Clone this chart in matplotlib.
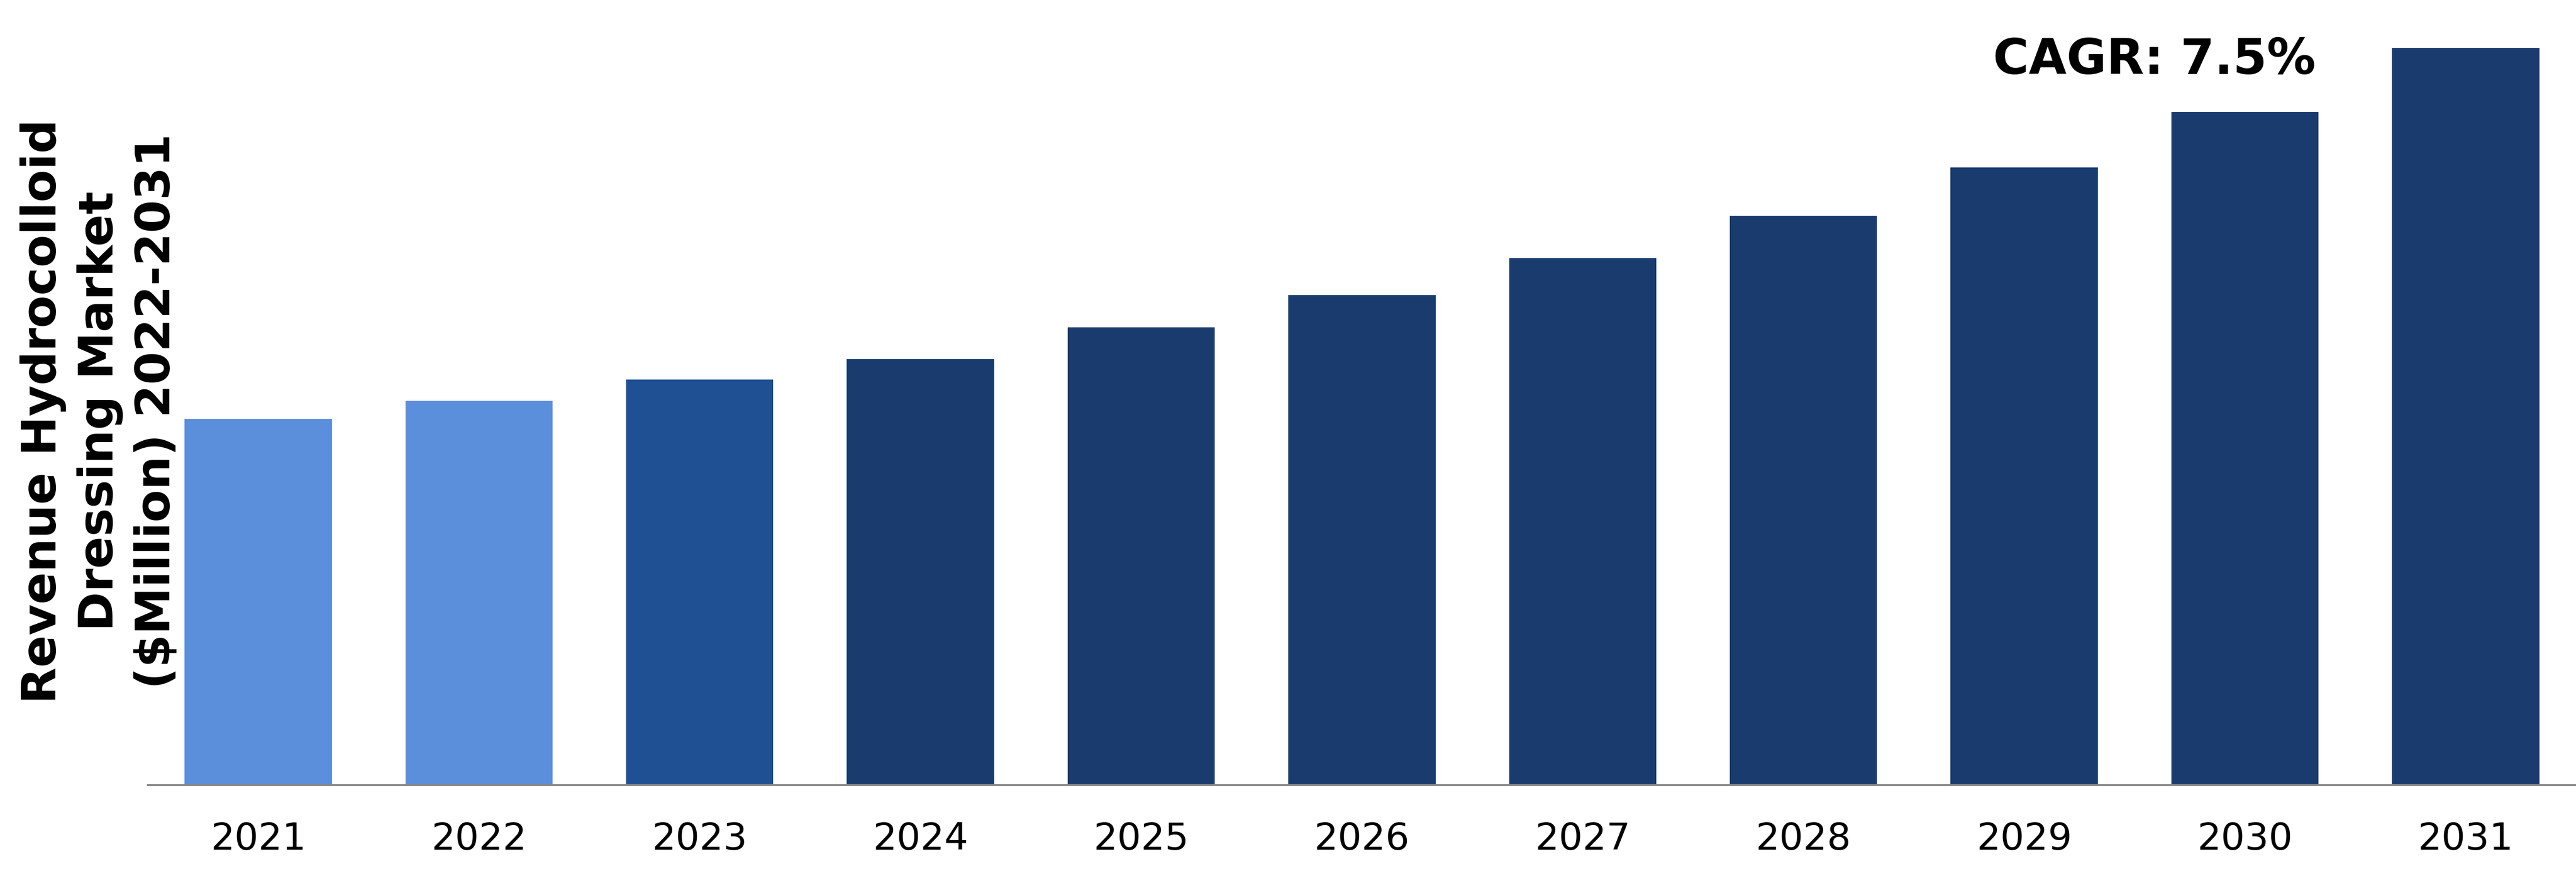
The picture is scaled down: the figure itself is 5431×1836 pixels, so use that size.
import matplotlib
matplotlib.use("Agg")
import matplotlib.pyplot as plt

# data (bar heights, arbitrary units)
years = ["2021", "2022", "2023", "2024", "2025", "2026",
         "2027", "2028", "2029", "2030", "2031"]
revenue = [7.72, 8.10, 8.55, 8.98, 9.65, 10.33, 11.11, 12.00, 13.02, 14.19, 15.54]
bar_colors = ["#5B8FDB", "#5B8FDB", "#1F5093", "#193B6E", "#193B6E", "#193B6E",
              "#193B6E", "#193B6E", "#193B6E", "#193B6E", "#193B6E"]
cagr_text = "CAGR: 7.5%"
ylabel_text = "Revenue Hydrocolloid\nDressing Market\n($Million) 2022-2031"

fig = plt.figure(figsize=(54.31, 18.36), dpi=100)
ax = fig.add_axes([0.0574, 0.0986, 0.9426, 0.9014])

x = list(range(len(years)))
ax.bar(x, revenue, width=0.667, color=bar_colors)

ax.set_xlim(-0.5, 10.5)
ax.set_ylim(0, 16.55)
ax.set_xticks(x)
ax.set_xticklabels(years, fontsize=57)
ax.tick_params(axis="x", length=0, pad=55, colors="black")
ax.set_yticks([])

# only the bottom axis line
for side in ["top", "right", "left"]:
    ax.spines[side].set_visible(False)
ax.spines["bottom"].set_color("#898989")
ax.spines["bottom"].set_linewidth(3)

# axis title on the left, and the CAGR note
fig.text(0.0387, 0.528, ylabel_text, rotation=90, ha="center", va="center",
         multialignment="center", fontsize=72, fontweight="bold",
         linespacing=1.29)
fig.text(0.899, 0.915, cagr_text, ha="right", va="baseline",
         fontsize=74, fontweight="bold")

fig.savefig("out.png", dpi=100)
